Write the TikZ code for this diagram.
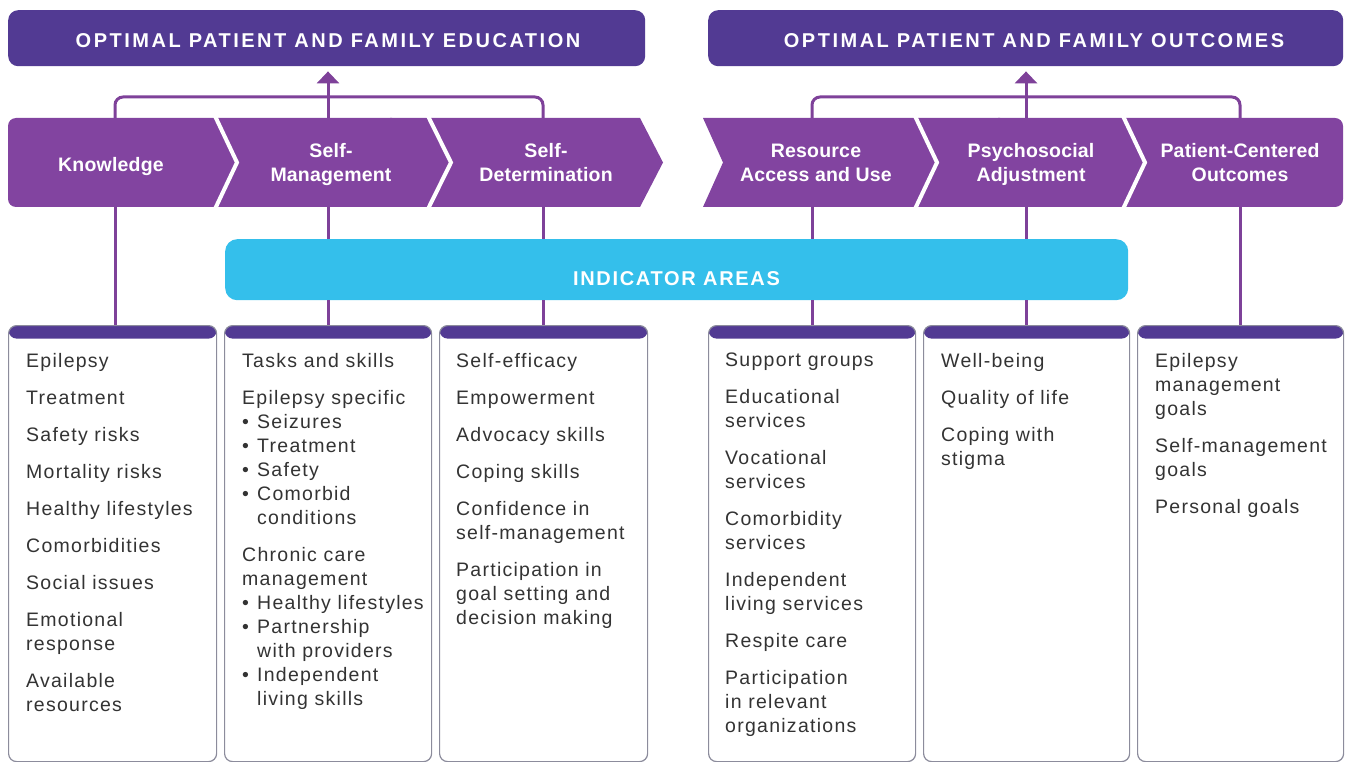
\documentclass[tikz,border=0pt]{standalone}
\usepackage{fontspec}
\setmainfont{Liberation Sans}
\newfontfamily\bodyfont{Liberation Sans}[LetterSpace=6.5]
\newfontfamily\hdfont{Liberation Sans}[LetterSpace=12.5]
\newfontfamily\indfont{Liberation Sans}[LetterSpace=8.5]
\newfontfamily\chvfont{Liberation Sans}[LetterSpace=1]
\usetikzlibrary{arrows.meta,calc}
\definecolor{hdpurple}{HTML}{523A93}
\definecolor{chevpurple}{HTML}{8244A0}
\definecolor{linepurple}{HTML}{7E4199}
\definecolor{indcyan}{HTML}{34BFEB}
\definecolor{boxgray}{HTML}{8C8C9C}
\definecolor{txtgray}{HTML}{333333}
\newcommand{\bitem}{\makebox[15pt][l]{\textbullet}}
\newcommand{\bind}{\hspace*{15pt}}
\tikzset{
  hdbox/.style={fill=hdpurple, rounded corners=10pt, inner sep=0pt, minimum height=56pt, anchor=north west},
  hdtext/.style={text=white, font=\hdfont\bfseries\fontsize{20}{24}\selectfont, inner sep=0pt, anchor=base},
  chevtext/.style={text=white, font=\chvfont\bfseries\fontsize{19.5}{24}\selectfont, align=center, inner sep=0pt, anchor=north},
  chev/.style={fill=chevpurple},
  conn/.style={draw=linepurple, line width=3pt},
  sepline/.style={draw=white, line width=4pt},
  indbox/.style={fill=indcyan, rounded corners=12pt, inner sep=0pt, anchor=north west},
  ibox/.style={draw=boxgray, line width=1.2pt, fill=white, rounded corners=8pt, inner sep=0pt,
    minimum height=436pt, anchor=north west,
    path picture={\fill[hdpurple] (path picture bounding box.north west) rectangle ([yshift=-13pt]path picture bounding box.north east);}},
  btxt/.style={text=txtgray, font=\bodyfont\fontsize{19.5}{24}\selectfont, align=left, inner sep=0pt, anchor=north west}
}
\begin{document}
\begin{tikzpicture}[x=1pt,y=-1pt]
\useasboundingbox (0,0) rectangle (1346,762);

% headers
\node[hdbox, minimum width=637pt] (h1) at (8,10) {};
\node[hdbox, minimum width=635pt] (h2) at (708,10) {};
\node[hdtext] (h1t) at (328,48) {OPTIMAL PATIENT AND FAMILY EDUCATION};
\node[hdtext] (h2t) at (1034,48) {OPTIMAL PATIENT AND FAMILY OUTCOMES};

% chevron bands
\fill[chev, rounded corners=8pt] (8,118) rectangle (400,207);
\fill[chev] (390,118) -- (640,118) -- (663,162.5) -- (640,207) -- (390,207) -- cycle;
\draw[sepline] (215,116) -- (237,162.5) -- (215,209);
\draw[sepline] (428,116) -- (451,162.5) -- (428,209);

\fill[chev] (703,118) -- (1000,118) -- (1000,207) -- (703,207) -- (723,162.5) -- cycle;
\fill[chev, rounded corners=8pt] (990,118) rectangle (1343,207);
\draw[sepline] (915,116) -- (937,162.5) -- (915,209);
\draw[sepline] (1123,116) -- (1145,162.5) -- (1123,209);

% chevron labels
\node[chevtext] (c1) at (111,157.5) {Knowledge};
\node[chevtext] (c2) at (331,143.5) {Self-\\Management};
\node[chevtext] (c3) at (546,143.5) {Self-\\Determination};
\node[chevtext] (c4) at (816,143.5) {Resource\\Access and Use};
\node[chevtext] (c5) at (1031,143.5) {Psychosocial\\Adjustment};
\node[chevtext] (c6) at (1240,143.5) {Patient-Centered\\Outcomes};

% connector anchor points on the chevrons
\coordinate (kT) at (115,118);  \coordinate (kB) at (115,207);
\coordinate (smT) at (328,118); \coordinate (smB) at (328,207);
\coordinate (sdT) at (543,118); \coordinate (sdB) at (543,207);
\coordinate (raT) at (812,118); \coordinate (raB) at (812,207);
\coordinate (psT) at (1026,118); \coordinate (psB) at (1026,207);
\coordinate (pcT) at (1240,118); \coordinate (pcB) at (1240,207);

% indicator band
\node[indbox, minimum width=903pt, minimum height=61pt] (ind) at (225,239) {};
\node[text=white, font=\indfont\bfseries\fontsize{20}{24}\selectfont, inner sep=0pt, anchor=base] (indt) at (676.5,285) {INDICATOR AREAS};

% boxes
\node[ibox, minimum width=208pt] (b1) at (8,325) {};
\node[ibox, minimum width=207pt] (b2) at (224,325) {};
\node[ibox, minimum width=208pt] (b3) at (439,325) {};
\node[ibox, minimum width=207pt] (b4) at (708,325) {};
\node[ibox, minimum width=206pt] (b5) at (923,325) {};
\node[ibox, minimum width=206pt] (b6) at (1137,325) {};

% box texts
\node[btxt] (t1) at (26,353) {Epilepsy\\[13pt]Treatment\\[13pt]Safety risks\\[13pt]Mortality risks\\[13pt]Healthy lifestyles\\[13pt]Comorbidities\\[13pt]Social issues\\[13pt]Emotional\\response\\[13pt]Available\\resources};
\node[btxt] (t2) at (242,353) {Tasks and skills\\[13pt]Epilepsy specific\\\bitem Seizures\\\bitem Treatment\\\bitem Safety\\\bitem Comorbid\\\bind conditions\\[13pt]Chronic care\\management\\\bitem Healthy lifestyles\\\bitem Partnership\\\bind with providers\\\bitem Independent\\\bind living skills};
\node[btxt] (t3) at (456,353) {Self-efficacy\\[13pt]Empowerment\\[13pt]Advocacy skills\\[13pt]Coping skills\\[13pt]Confidence in\\self-management\\[13pt]Participation in\\goal setting and\\decision making};
\node[btxt] (t4) at (725,353) {Support groups\\[13pt]Educational\\services\\[13pt]Vocational\\services\\[13pt]Comorbidity\\services\\[13pt]Independent\\living services\\[13pt]Respite care\\[13pt]Participation\\in relevant\\organizations};
\node[btxt] (t5) at (941,353) {Well-being\\[13pt]Quality of life\\[13pt]Coping with\\stigma};
\node[btxt] (t6) at (1155,353) {Epilepsy\\management\\goals\\[13pt]Self-management\\goals\\[13pt]Personal goals};

% brackets and arrows
\draw[conn, rounded corners=8pt] (kT) -- ++(0,-21) -| (sdT);
\draw[conn, rounded corners=8pt] (raT) -- ++(0,-21) -| (pcT);
\draw[conn, shorten >=5pt, -{Triangle[width=22pt,length=12pt]}] (smT) -- (smT |- h1.south);
\draw[conn, shorten >=5pt, -{Triangle[width=22pt,length=12pt]}] (psT) -- (psT |- h2.south);

% vertical connectors
\draw[conn] (kB) -- (kB |- b1.north);
\draw[conn] (smB) -- (smB |- ind.north);
\draw[conn] (smB |- ind.south) -- (smB |- b2.north);
\draw[conn] (sdB) -- (sdB |- ind.north);
\draw[conn] (sdB |- ind.south) -- (sdB |- b3.north);
\draw[conn] (raB) -- (raB |- ind.north);
\draw[conn] (raB |- ind.south) -- (raB |- b4.north);
\draw[conn] (psB) -- (psB |- ind.north);
\draw[conn] (psB |- ind.south) -- (psB |- b5.north);
\draw[conn] (pcB) -- (pcB |- b6.north);
\end{tikzpicture}
\end{document}
